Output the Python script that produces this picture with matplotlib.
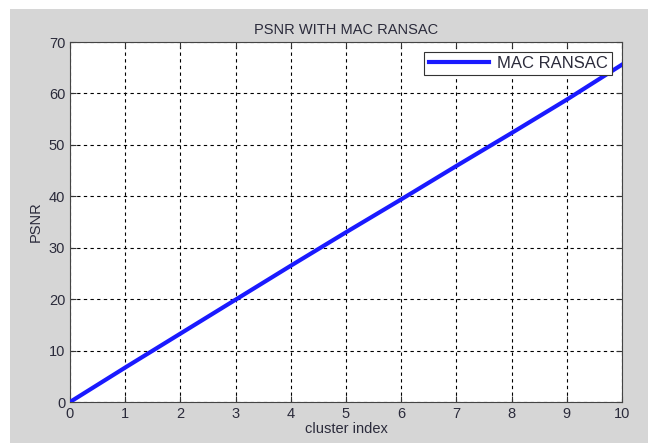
import matplotlib
matplotlib.use("Agg")
import matplotlib.pyplot as plt
from matplotlib.patches import Rectangle

cluster_index = [0, 1, 2, 3, 4, 5, 6, 7, 8, 9, 10]
psnr = [0, 6.7, 13.3, 19.9, 26.5, 33.0, 39.4, 45.9, 52.3, 58.8, 65.6]
title = "PSNR WITH MAC RANSAC"
xlabel = "cluster index"
ylabel = "PSNR"
legend_label = "MAC RANSAC"

plt.rcParams['font.family'] = ['Liberation Sans', 'DejaVu Sans']
fig = plt.figure(figsize=(6.59, 4.43), dpi=100)
fig.patch.set_facecolor('#d6d6d6')
W, H = 659, 443
# white margins around the grey figure area
for (x0, y0, w, h) in [(0, 0, 10, H), (0, H - 9, W, 9), (648, 0, 11, H)]:
    fig.patches.append(Rectangle((x0 / W, y0 / H), w / W, h / H, transform=fig.transFigure,
                                 facecolor='white', edgecolor='none', zorder=-1))

ax = fig.add_axes([70 / W, 1 - 402 / H, (622 - 70) / W, (402 - 42) / H])
ax.set_facecolor('white')
ax.plot(cluster_index, psnr, color='#1a1aff', linewidth=3.0, label=legend_label, zorder=3)
ax.set_xlim(0, 10)
ax.set_ylim(0, 70)
ax.set_xticks(range(0, 11))
ax.set_yticks(range(0, 71, 10))
ax.grid(True, color='black', linestyle=(0, (3, 3)), linewidth=0.8)
ax.tick_params(direction='in', length=4, labelsize=10.5, colors='#333333', labelcolor='#2b2b3b',
               top=True, right=True)
for s in ax.spines.values():
    s.set_color('#444444')
    s.set_linewidth(0.8)
ax.set_title(title, fontsize=10.5, color='#2b2b3b', pad=6)
ax.set_xlabel(xlabel, fontsize=10.5, color='#2b2b3b', labelpad=1)
ax.set_ylabel(ylabel, fontsize=10.5, color='#2b2b3b', labelpad=4)
leg = ax.legend(loc='upper right', fontsize=12, fancybox=False, framealpha=1,
                edgecolor='#333333', handlelength=3.6, borderaxespad=0.6,
                borderpad=0.25, handletextpad=0.5)
leg.get_frame().set_linewidth(0.8)
for t in leg.get_texts():
    t.set_color('#2b2b3b')
fig.savefig("out.png", dpi=100, facecolor=fig.get_facecolor())
